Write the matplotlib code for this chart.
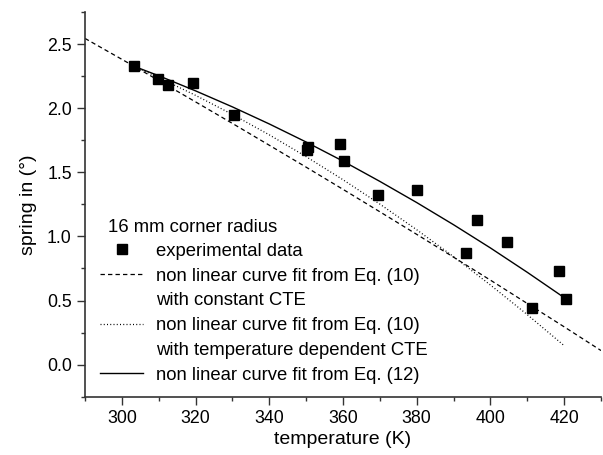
import matplotlib
matplotlib.use("Agg")
import matplotlib.pyplot as plt
from matplotlib.lines import Line2D
from matplotlib.ticker import MultipleLocator

plt.rcParams["font.family"] = ["Liberation Sans", "DejaVu Sans"]

# Measured spring-in for the 16 mm corner radius
temperature = [303.2, 309.8, 312.5, 319.3, 330.5, 350.2, 350.6, 359.2, 360.4,
               369.6, 380.0, 393.4, 396.3, 404.5, 411.3, 418.5, 420.5]
spring_in = [2.33, 2.23, 2.18, 2.20, 1.95, 1.67, 1.70, 1.72, 1.59,
             1.32, 1.36, 0.87, 1.13, 0.96, 0.44, 0.73, 0.51]

# Fit from Eq. (10), constant CTE
fit_const_T = [290, 300, 310, 320, 330, 340, 350, 360, 370, 380, 390, 400, 410, 420, 430]
fit_const_S = [2.544, 2.381, 2.216, 2.049, 1.881, 1.711, 1.540, 1.367, 1.192,
               1.016, 0.838, 0.659, 0.477, 0.295, 0.110]

# Fit from Eq. (10), temperature dependent CTE
fit_tdep_T = [303, 310, 320, 330, 340, 350, 360, 370, 380, 390, 400, 410, 420]
fit_tdep_S = [2.330, 2.239, 2.100, 1.951, 1.792, 1.622, 1.442, 1.252, 1.052,
              0.842, 0.621, 0.390, 0.148]

# Fit from Eq. (12)
fit_eq12_T = [303, 310, 320, 330, 340, 350, 360, 370, 380, 390, 400, 410, 420.5]
fit_eq12_S = [2.330, 2.253, 2.135, 2.010, 1.877, 1.736, 1.587, 1.429, 1.264,
              1.091, 0.910, 0.720, 0.513]

legend_title = "16 mm corner radius"
legend_labels = ["experimental data",
                 "non linear curve fit from Eq. (10)",
                 "with constant CTE",
                 "non linear curve fit from Eq. (10)",
                 "with temperature dependent CTE",
                 "non linear curve fit from Eq. (12)"]

fig = plt.figure(figsize=(6.03, 4.55), dpi=100)
ax = fig.add_axes([85 / 603, 58.3 / 455, 516 / 603, 384.7 / 455])

dash_style = (0, (3.5, 2.5))
dot_style = (0, (0.8, 1.8))

ax.plot(fit_const_T, fit_const_S, color="black", lw=0.9, linestyle=dash_style)
ax.plot(fit_tdep_T, fit_tdep_S, color="black", lw=0.9, linestyle=dot_style)
ax.plot(fit_eq12_T, fit_eq12_S, color="black", lw=1.0, linestyle="-")
ax.plot(temperature, spring_in, linestyle="none", marker="s", ms=7.2,
        color="black", zorder=5)

ax.set_xlim(290, 430)
ax.set_ylim(-0.25, 2.75)
ax.xaxis.set_major_locator(MultipleLocator(20))
ax.xaxis.set_minor_locator(MultipleLocator(10))
ax.yaxis.set_major_locator(MultipleLocator(0.5))
ax.yaxis.set_minor_locator(MultipleLocator(0.25))
ax.yaxis.set_major_formatter(plt.FormatStrFormatter("%.1f"))

for side in ("top", "right"):
    ax.spines[side].set_visible(False)
for side in ("left", "bottom"):
    ax.spines[side].set_color("#333333")
    ax.spines[side].set_linewidth(1.2)

ax.tick_params(which="major", direction="out", length=5.5, width=1.0,
               color="#333333", labelsize=12.8, pad=4)
ax.tick_params(which="minor", direction="out", length=3, width=1.0,
               color="#333333")

ax.set_xlabel("temperature (K)", fontsize=14, labelpad=3)
ax.set_ylabel("spring in (°)", fontsize=14, labelpad=7)

blank = Line2D([], [], linestyle="none")
handles = [
    Line2D([], [], linestyle="none", marker="s", ms=7.2, color="black"),
    Line2D([], [], color="black", lw=0.9, linestyle=dash_style),
    blank,
    Line2D([], [], color="black", lw=0.9, linestyle=dot_style),
    blank,
    Line2D([], [], color="black", lw=1.0, linestyle="-"),
]
ax.legend(handles, legend_labels, loc="lower left",
          bbox_to_anchor=(15 / 516, 13 / 384.7), frameon=False,
          fontsize=13.3, handlelength=2.33, handletextpad=0.72,
          labelspacing=0.42, borderpad=0, borderaxespad=0)
ax.text(23 / 516, (396.7 - 227) / 384.7, legend_title, transform=ax.transAxes,
        fontsize=13.3, ha="left", va="center")

fig.savefig("out.png", dpi=100)
